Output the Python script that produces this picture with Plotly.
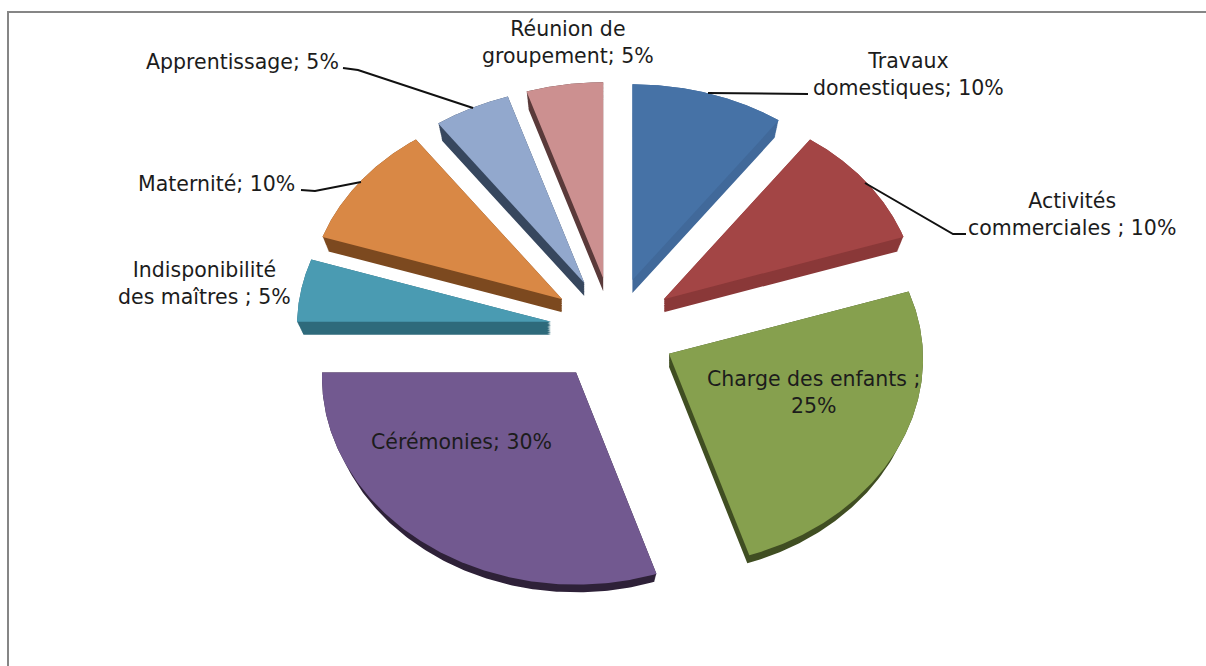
import numpy as np
import plotly.graph_objects as go

# ---- data -------------------------------------------------------------
categories = ["Travaux domestiques", "Activités commerciales", "Charge des enfants",
              "Cérémonies", "Indisponibilité des maîtres", "Maternité",
              "Apprentissage", "Réunion de groupement"]
shares = [10, 10, 25, 30, 5, 10, 5, 5]
top_colors = ["#4672A6", "#A34545", "#86A04E", "#725990",
              "#4A9BB2", "#D98845", "#92A8CD", "#CC9090"]
side_colors = ["#41699A", "#8A3838", "#404E22", "#2E2138",
               "#2E6A7B", "#7C491F", "#37475E", "#5A3A3A"]

labels = ["Travaux<br>domestiques; 10%", "Activités<br>commerciales ; 10%",
          "Charge des enfants ;<br>25%", "Cérémonies; 30%",
          "Indisponibilité<br>des maîtres ; 5%", "Maternité; 10%",
          "Apprentissage; 5%", "Réunion de<br>groupement; 5%"]
label_x = [908, 1072, 813, 461, 204, 216, 242, 568]
label_y = [74, 214, 392, 442, 283, 184, 62, 42]

# ---- projection of the exploded, tilted pie ------------------------------
CX, CY = 613, 330
RX, RY = 254, 204
PERSP_X, PERSP_Y = 0.025, 0.04
EXPL_X, EXPL_Y = 62.8, 52.5
DEPTH, SHRINK = 13, 0.975


def wedge(start, end):
    mid = np.radians((start + end) / 2)
    ax = CX + EXPL_X * np.sin(mid)
    ay = CY - EXPL_Y * np.cos(mid)
    th = np.radians(np.linspace(start, end, 160))
    x = np.concatenate([[ax], ax + RX * (1 - PERSP_X * np.cos(th)) * np.sin(th), [ax]])
    y = np.concatenate([[ay], ay - RY * (1 - PERSP_Y * np.cos(th)) * np.cos(th), [ay]])
    return ax, ay, x, y


fig = go.Figure()
angles = np.cumsum([0] + shares) * 3.6
geo = [wedge(angles[i], angles[i + 1]) for i in range(len(shares))]

for i, (ax, ay, x, y) in enumerate(geo):
    sx, sy = [], []
    for t in np.linspace(0, 1, 16):
        f = 1 - (1 - SHRINK) * t
        sx += list(ax + (x - ax) * f) + [None]
        sy += list(ay + (y - ay) * f + DEPTH * t) + [None]
    fig.add_trace(go.Scatter(x=sx, y=sy, mode="lines", fill="toself",
                             fillcolor=side_colors[i], line=dict(width=0),
                             hoverinfo="skip", showlegend=False))

for i, (ax, ay, x, y) in enumerate(geo):
    fig.add_trace(go.Scatter(x=x, y=y, mode="lines", fill="toself",
                             fillcolor=top_colors[i], line=dict(width=0),
                             name=categories[i], text=f"{shares[i]}%",
                             hoverinfo="name+text", showlegend=False))

leaders = ["M708,93 L808,94", "M865,183 L953,234 L966,234",
           "M343,68 L358,70 L473,108", "M301,190 L315,191 L361,182"]
shapes = [dict(type="path", path=p, line=dict(color="#111111", width=2),
               xref="x", yref="y") for p in leaders]
shapes.append(dict(type="path", path="M8,680 L8,12 L1220,12",
                   line=dict(color="#868686", width=2), xref="x", yref="y"))

annotations = [dict(x=lx, y=ly, text=t, xref="x", yref="y", showarrow=False,
                    align="center", xanchor="center", yanchor="middle",
                    font=dict(family="DejaVu Sans", size=20.5, color="#1c1c1c"))
               for lx, ly, t in zip(label_x, label_y, labels)]

fig.update_layout(
    width=1206, height=666, margin=dict(l=0, r=0, t=0, b=0),
    paper_bgcolor="white", plot_bgcolor="white",
    xaxis=dict(range=[0, 1206], visible=False, fixedrange=True),
    yaxis=dict(range=[666, 0], visible=False, fixedrange=True),
    shapes=shapes, annotations=annotations, showlegend=False,
)
fig.write_html("out.html", config={"displayModeBar": False},
               post_script="document.body.style.margin='0';document.body.style.overflow='hidden';")
